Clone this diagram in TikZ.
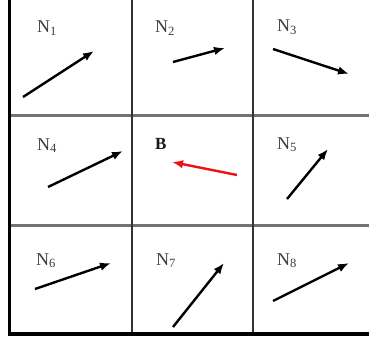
\documentclass[tikz,border=0pt]{standalone}
\usepackage{fontspec}
\setmainfont{Liberation Serif}
\usetikzlibrary{arrows.meta}
\definecolor{lblgray}{HTML}{3C3C3C}
\definecolor{vecred}{HTML}{F01010}
\tikzset{
  >={Latex[length=11pt,width=8.5pt]},
  border/.style={line width=3.5pt,black},
  hline/.style={line width=3pt,black!55},
  vline/.style={line width=2pt,black!80},
  cellname/.style={anchor=base west,inner sep=0pt,text=lblgray,
    font=\fontsize{18}{20}\selectfont},
  centre/.style={cellname,text=black!90,font=\fontsize{17}{20}\selectfont\bfseries},
  vec/.style={->,line width=2.4pt,black},
  redvec/.style={->,line width=2.4pt,vecred},
}
\begin{document}
\begin{tikzpicture}[x=1pt,y=-1pt]
  \useasboundingbox (0,0) rectangle (369,345);
  % grid
  \draw[hline] (10,115.5) -- (369,115.5);
  \draw[hline] (10,225) -- (369,225);
  \draw[vline] (131.5,0) -- (131.5,334);
  \draw[vline] (253,0) -- (253,334);
  \draw[border] (9.5,0) -- (9.5,334) -- (369,334);
  % cell names
  \node[cellname] (n1) at (37,33) {N\textsubscript{1}};
  \node[cellname] (n2) at (155,33) {N\textsubscript{2}};
  \node[cellname] (n3) at (277,32) {N\textsubscript{3}};
  \node[cellname] (n4) at (37,150) {N\textsubscript{4}};
  \node[centre] (b) at (155,149) {B};
  \node[cellname] (n5) at (277,149) {N\textsubscript{5}};
  \node[cellname] (n6) at (36,265) {N\textsubscript{6}};
  \node[cellname] (n7) at (156,265) {N\textsubscript{7}};
  \node[cellname] (n8) at (277,265) {N\textsubscript{8}};
  % vectors
  \coordinate (t1) at (23,97);   \coordinate (h1) at (94,51);
  \coordinate (t2) at (173,62);  \coordinate (h2) at (225,48);
  \coordinate (t3) at (273,49);  \coordinate (h3) at (349,74);
  \coordinate (t4) at (48,187);  \coordinate (h4) at (123,151);
  \coordinate (tb) at (237,175); \coordinate (hb) at (172,162);
  \coordinate (t5) at (287,199); \coordinate (h5) at (328,149);
  \coordinate (t6) at (35,289);  \coordinate (h6) at (111,263);
  \coordinate (t7) at (173,327); \coordinate (h7) at (224,263);
  \coordinate (t8) at (273,301); \coordinate (h8) at (349,263);
  \foreach \k in {1,2,3,4,5,6,7,8}
    \draw[vec] (t\k) -- (h\k);
  \draw[redvec] (tb) -- (hb);
\end{tikzpicture}
\end{document}
